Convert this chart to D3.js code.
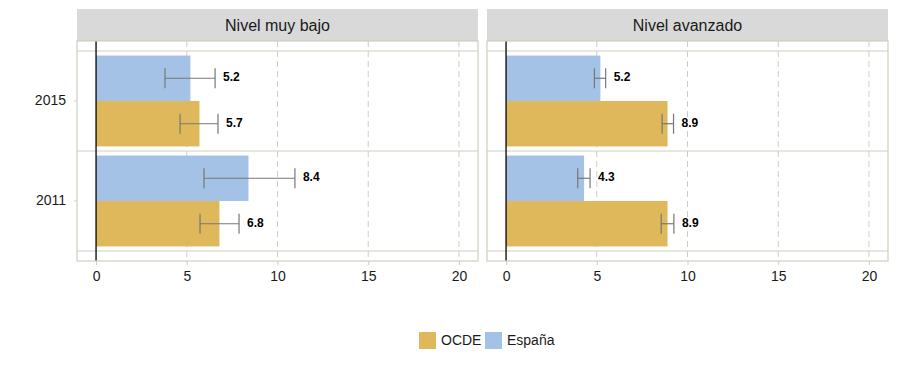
<!DOCTYPE html>
<html>
<head>
<meta charset="utf-8">
<script src="https://cdn.jsdelivr.net/npm/d3@7"></script>
<style>
  body { margin: 0; background: #fff; }
  text { font-family: "Liberation Sans", Arial, sans-serif; }
</style>
</head>
<body>
<div id="chart"></div>
<script>
// datos
const levels = ["Nivel muy bajo", "Nivel avanzado"];
const years = ["2015", "2011"];
const series = ["OCDE", "España"];
const xTicks = [0, 5, 10, 15, 20];

// [nivel][año]
const espanaValues = [[5.2, 8.4], [5.2, 4.3]];
const espanaLow = [[3.8, 5.95], [4.87, 3.95]];
const espanaHigh = [[6.56, 10.96], [5.49, 4.63]];
const ocdeValues = [[5.7, 6.8], [8.9, 8.9]];
const ocdeLow = [[4.63, 5.73], [8.6, 8.55]];
const ocdeHigh = [[6.72, 7.88], [9.23, 9.25]];

const colors = {"OCDE": "#e0b85c", "España": "#a3c2e5"};
const gridColor = "#d0cebf";

const W = 898, H = 384;
const panelW = 401, panelTop = 41, panelBottom = 261;
const panelX = [77, 487];

const svg = d3.select("#chart").append("svg")
    .attr("width", W)
    .attr("height", H);

const yBand = d3.scaleBand()
    .domain(years)
    .range([51, 251]);

const yInner = d3.scaleBand()
    .domain(["España", "OCDE"])
    .range([0, yBand.bandwidth()])
    .paddingOuter(0.1);

levels.forEach((level, li) => {
    const x0 = panelX[li];
    const x = d3.scaleLinear()
        .domain([-1.05, 21.05])
        .range([x0, x0 + panelW]);

    const g = svg.append("g");

    // tira del título
    g.append("rect")
        .attr("x", x0).attr("y", 9)
        .attr("width", panelW).attr("height", panelTop - 9)
        .attr("fill", "#d9d9d9");
    g.append("text")
        .attr("x", x0 + panelW / 2).attr("y", 27)
        .attr("text-anchor", "middle")
        .attr("dominant-baseline", "middle")
        .attr("font-size", 16)
        .attr("fill", "#1a1a1a")
        .text(level);

    // rejilla vertical discontinua
    g.selectAll(".vgrid")
        .data(xTicks.filter(d => d > 0))
        .join("line")
        .attr("x1", d => x(d)).attr("x2", d => x(d))
        .attr("y1", panelTop).attr("y2", panelBottom)
        .attr("stroke", gridColor)
        .attr("stroke-dasharray", "6,4");

    // líneas horizontales entre años
    const hLines = [yBand.range()[0]].concat(years.map(y => yBand(y) + yBand.bandwidth()));
    g.selectAll(".hgrid")
        .data(hLines)
        .join("line")
        .attr("x1", x0).attr("x2", x0 + panelW)
        .attr("y1", d => d).attr("y2", d => d)
        .attr("stroke", gridColor)
        .attr("stroke-width", 1.2);

    // barras
    years.forEach((year, yi) => {
        const rows = [
            {s: "España", v: espanaValues[li][yi], lo: espanaLow[li][yi], hi: espanaHigh[li][yi]},
            {s: "OCDE", v: ocdeValues[li][yi], lo: ocdeLow[li][yi], hi: ocdeHigh[li][yi]}
        ];
        const gy = g.append("g").attr("transform", "translate(0," + yBand(year) + ")");

        gy.selectAll("rect")
            .data(rows)
            .join("rect")
            .attr("x", x(0))
            .attr("y", d => yInner(d.s))
            .attr("width", d => x(d.v) - x(0))
            .attr("height", yInner.bandwidth())
            .attr("fill", d => colors[d.s]);

        rows.forEach(d => {
            const cy = yInner(d.s) + yInner.bandwidth() / 2;
            const eb = gy.append("g").attr("stroke", "#777").attr("stroke-width", 1.2);
            eb.append("line")
                .attr("x1", x(d.lo)).attr("x2", x(d.hi))
                .attr("y1", cy).attr("y2", cy);
            [d.lo, d.hi].forEach(v => {
                eb.append("line")
                    .attr("x1", x(v)).attr("x2", x(v))
                    .attr("y1", cy - 10).attr("y2", cy + 10);
            });
            gy.append("text")
                .attr("x", x(d.hi) + 8)
                .attr("y", cy)
                .attr("dominant-baseline", "middle")
                .attr("font-size", 12)
                .attr("font-weight", "bold")
                .attr("fill", "#000")
                .text(d.v.toFixed(1));
        });
    });

    // línea del cero
    g.append("line")
        .attr("x1", x(0)).attr("x2", x(0))
        .attr("y1", panelTop).attr("y2", panelBottom)
        .attr("stroke", "#000")
        .attr("stroke-width", 1.3);

    // borde del panel
    g.append("rect")
        .attr("x", x0).attr("y", panelTop)
        .attr("width", panelW).attr("height", panelBottom - panelTop)
        .attr("fill", "none")
        .attr("stroke", gridColor)
        .attr("stroke-width", 1.2);

    // eje x
    const xAxis = g.append("g")
        .attr("transform", "translate(0," + panelBottom + ")")
        .call(d3.axisBottom(x).tickValues(xTicks).tickSize(4).tickPadding(6));
    xAxis.select(".domain").remove();
    xAxis.selectAll("line").attr("stroke", gridColor);
    xAxis.selectAll("text")
        .attr("font-size", 14)
        .attr("fill", "#1a1a1a")
        .style("font-family", "'Liberation Sans', Arial, sans-serif");

    // eje y solo en el primer panel
    if (li === 0) {
        const yAxis = g.append("g")
            .attr("transform", "translate(" + x0 + ",0)")
            .call(d3.axisLeft(yBand).tickSize(3).tickPadding(8));
        yAxis.select(".domain").remove();
        yAxis.selectAll("line").attr("stroke", gridColor);
        yAxis.selectAll("text")
            .attr("font-size", 14)
            .attr("fill", "#1a1a1a")
            .style("font-family", "'Liberation Sans', Arial, sans-serif");
    }
});

// leyenda
const legend = svg.append("g").attr("transform", "translate(419,332)");
const legendX = [0, 66];
series.forEach((s, i) => {
    const lg = legend.append("g").attr("transform", "translate(" + legendX[i] + ",0)");
    lg.append("rect")
        .attr("width", 17).attr("height", 17)
        .attr("fill", colors[s]);
    lg.append("text")
        .attr("x", 22).attr("y", 9)
        .attr("dominant-baseline", "middle")
        .attr("font-size", 14)
        .attr("fill", "#1a1a1a")
        .text(s);
});
</script>
</body>
</html>
